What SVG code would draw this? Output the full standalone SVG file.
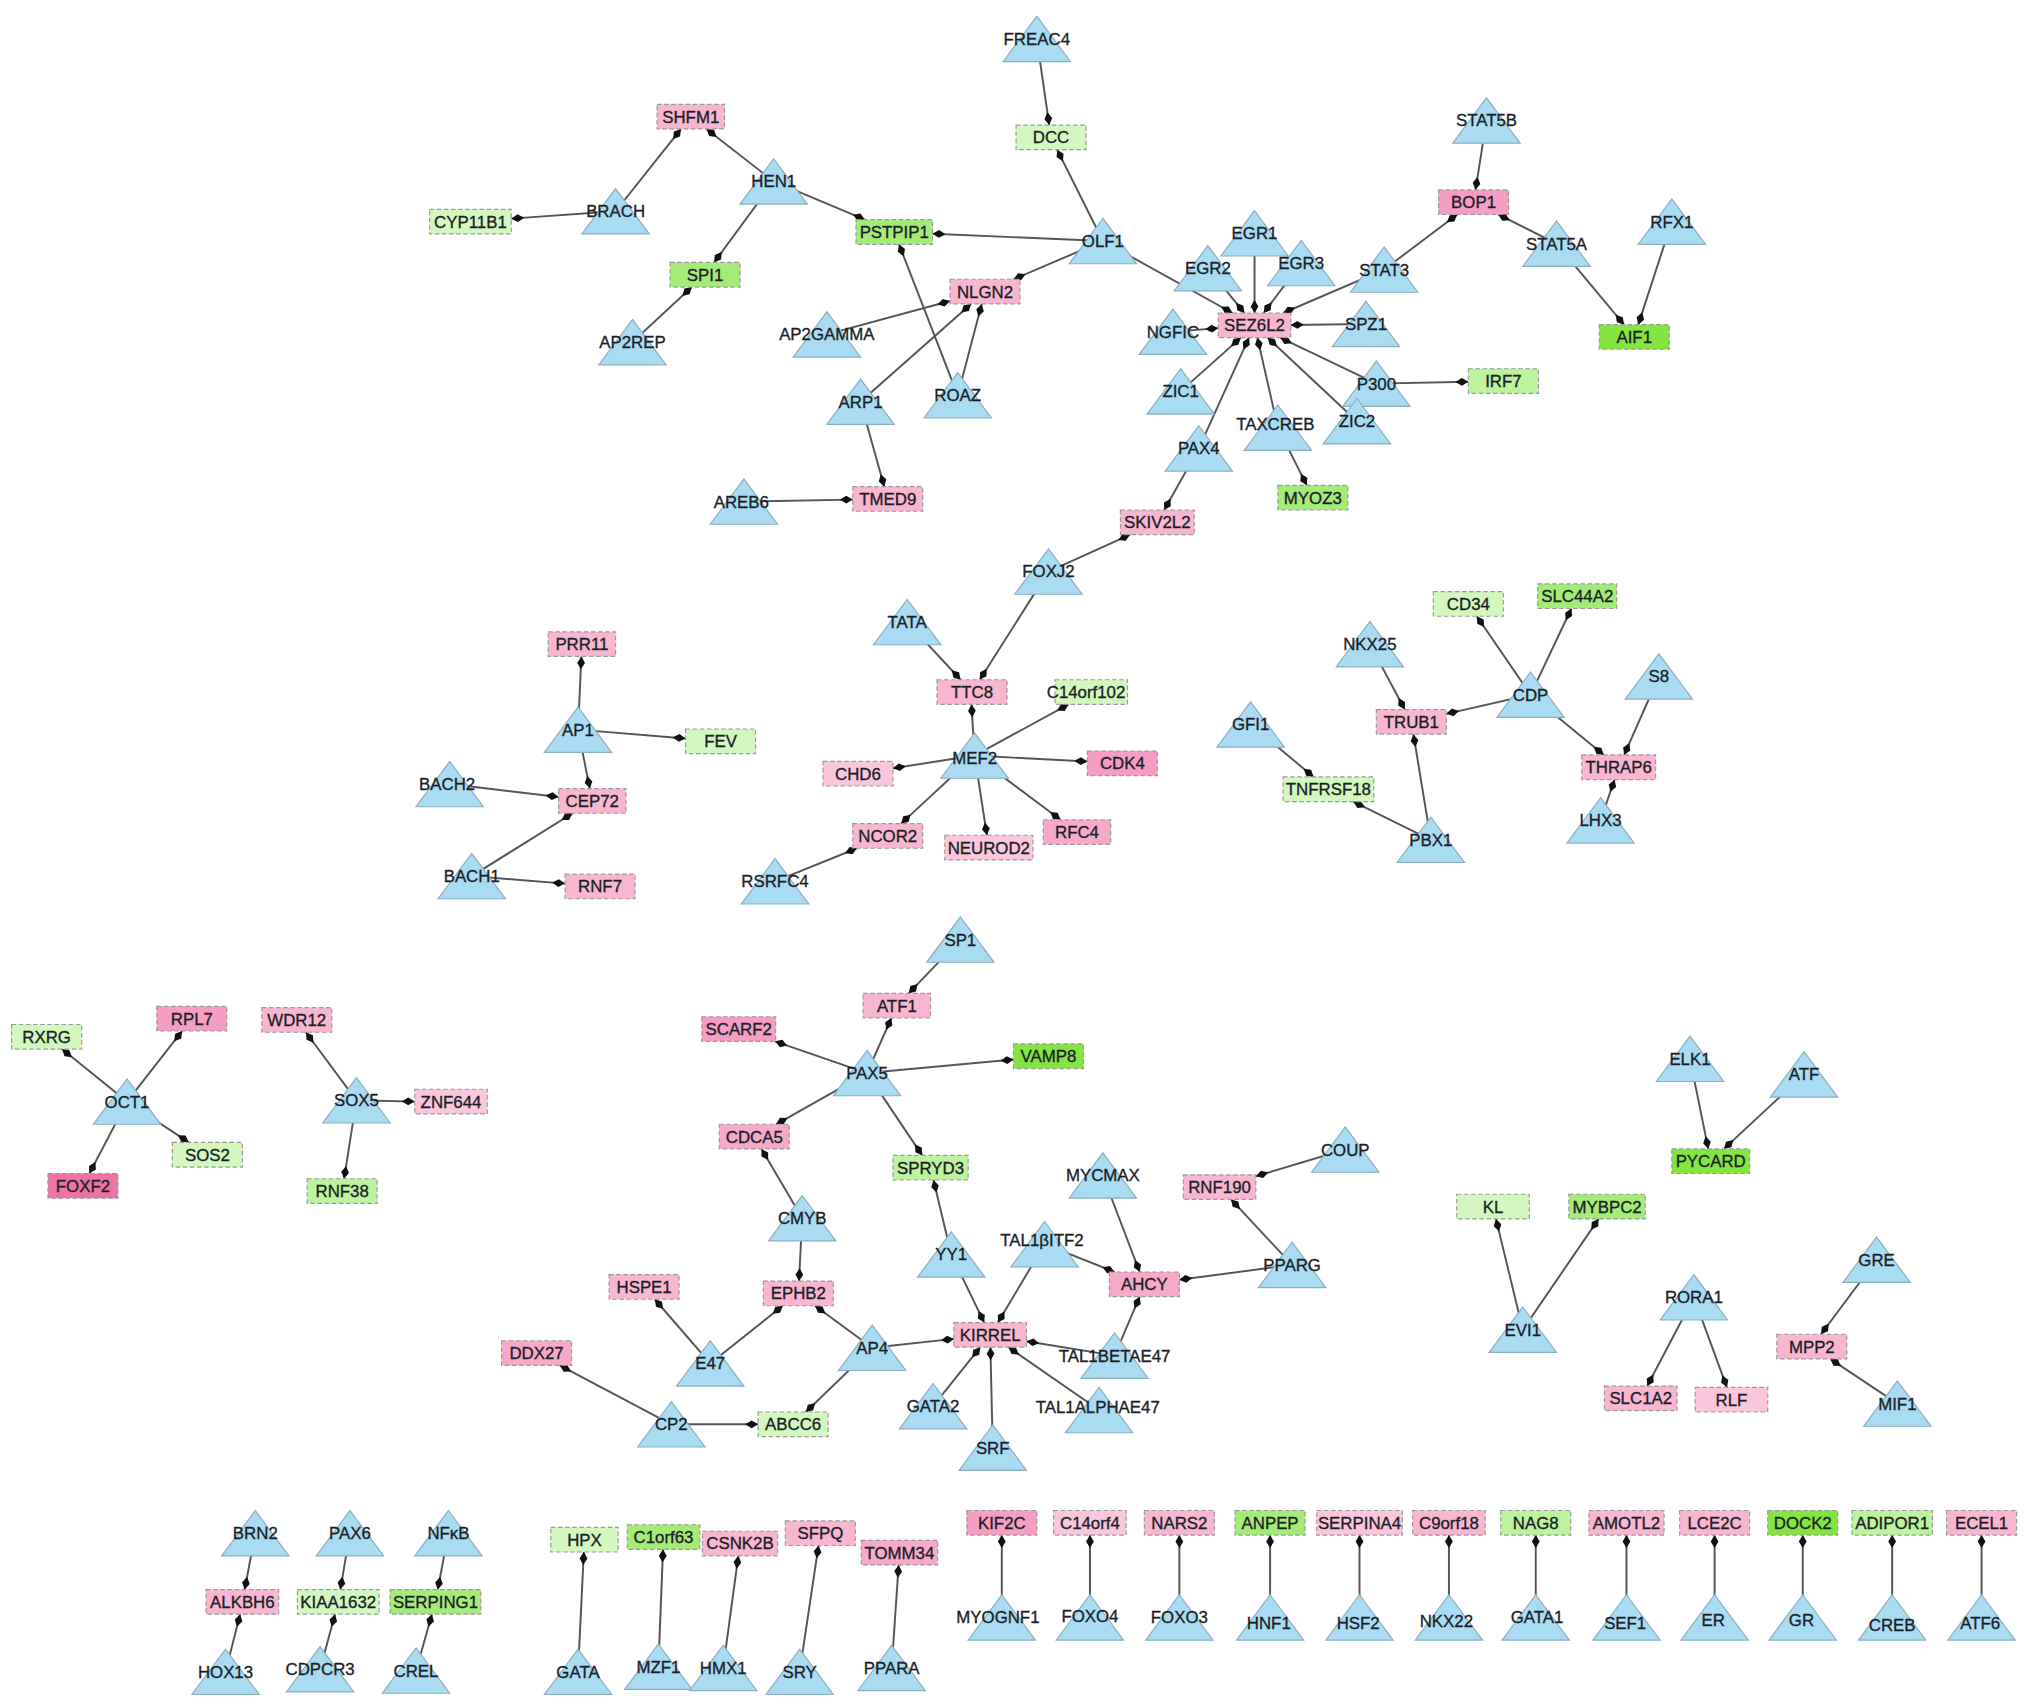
<svg xmlns="http://www.w3.org/2000/svg" xmlns:xlink="http://www.w3.org/1999/xlink" width="2032" height="1706" viewBox="0 0 2032 1706">
<defs>
<style>
.tf{fill:#a9dbf2;stroke:#8eaebd;stroke-width:0.9}
rect.n{stroke:#9a9a9a;stroke-width:0.9;stroke-dasharray:3.5 2}
text{font-family:"Liberation Sans",Arial,sans-serif;font-size:13px;fill:#1a1e28;stroke:#1a1e28;stroke-width:0.25;text-anchor:middle}
#edges line{stroke:#555;stroke-width:1.5;marker-end:url(#dia)}
.p{fill:#f8b6d0}.p1{fill:#fac6dc}.p2{fill:#f7a9c9}.p3{fill:#f59dc3}.p4{fill:#ee73a5}
.g1{fill:#d3f7bf}.g2{fill:#bdf29e}.g3{fill:#a5ec77}.g4{fill:#84e540}
</style>
<marker id="dia" viewBox="-11 -4 12 8" refX="0" refY="0" markerWidth="12" markerHeight="8" markerUnits="userSpaceOnUse" orient="auto"><path d="M0,0 L-5,-3 L-10,0 L-5,3 Z" fill="#111"/></marker>
<path id="tri" d="M0,-17.5 L26,17.5 L-26,17.5 Z"/>
</defs>
<rect width="2032" height="1706" fill="#fff"/>
<g transform="scale(1.296)">
<g id="edges">
<line x1="800" y1="30" x2="809.6" y2="96.5"/>
<line x1="851" y1="186" x2="815.7" y2="115.5"/>
<line x1="597" y1="140" x2="545.1" y2="99.5"/>
<line x1="475" y1="163" x2="525.5" y2="99.5"/>
<line x1="475" y1="163" x2="394.5" y2="168.7"/>
<line x1="597" y1="140" x2="667.4" y2="169.5"/>
<line x1="597" y1="140" x2="551" y2="202.5"/>
<line x1="488" y1="264" x2="533.8" y2="221.5"/>
<line x1="851" y1="186" x2="719.5" y2="180.3"/>
<line x1="851" y1="186" x2="782.1" y2="215.5"/>
<line x1="638" y1="258" x2="733" y2="232.3"/>
<line x1="664" y1="310" x2="749.3" y2="234.5"/>
<line x1="739" y1="305" x2="757.5" y2="234.5"/>
<line x1="739" y1="305" x2="693.7" y2="188.5"/>
<line x1="664" y1="310" x2="682.3" y2="375.5"/>
<line x1="574" y1="387" x2="658" y2="385.5"/>
<line x1="851" y1="186" x2="951" y2="241.5"/>
<line x1="932" y1="207" x2="960.2" y2="241.5"/>
<line x1="968" y1="180" x2="968" y2="241.5"/>
<line x1="1004" y1="203" x2="975.1" y2="241.5"/>
<line x1="1068" y1="208" x2="990.1" y2="241.5"/>
<line x1="1054" y1="250" x2="996" y2="250.7"/>
<line x1="905" y1="256" x2="940" y2="253.2"/>
<line x1="911" y1="302" x2="957.4" y2="260.5"/>
<line x1="925" y1="346" x2="963.7" y2="260.5"/>
<line x1="986" y1="330" x2="970.2" y2="260.5"/>
<line x1="1047" y1="325" x2="978.1" y2="260.5"/>
<line x1="1062" y1="296" x2="987.8" y2="260.5"/>
<line x1="1062" y1="296" x2="1133" y2="294.5"/>
<line x1="986" y1="330" x2="1008.3" y2="374.5"/>
<line x1="925" y1="346" x2="898.3" y2="393.5"/>
<line x1="809" y1="441" x2="872" y2="412.5"/>
<line x1="809" y1="441" x2="756" y2="524.5"/>
<line x1="1068" y1="208" x2="1124.4" y2="165.5"/>
<line x1="1147" y1="93" x2="1138.5" y2="146.5"/>
<line x1="1201" y1="188" x2="1156" y2="165.5"/>
<line x1="1201" y1="188" x2="1253.1" y2="250.5"/>
<line x1="1290" y1="171" x2="1264.1" y2="250.5"/>
<line x1="446" y1="563" x2="448.6" y2="506.5"/>
<line x1="446" y1="563" x2="529" y2="569.8"/>
<line x1="446" y1="563" x2="455.1" y2="608.5"/>
<line x1="347" y1="605" x2="431" y2="614.9"/>
<line x1="364" y1="676" x2="441.8" y2="627.5"/>
<line x1="364" y1="676" x2="436" y2="681.8"/>
<line x1="700" y1="480" x2="741.2" y2="524.5"/>
<line x1="752" y1="583" x2="749.6" y2="543.5"/>
<line x1="752" y1="583" x2="824.5" y2="543.5"/>
<line x1="752" y1="583" x2="839" y2="587.6"/>
<line x1="752" y1="583" x2="689" y2="592.8"/>
<line x1="752" y1="583" x2="695.3" y2="635.5"/>
<line x1="752" y1="583" x2="761.5" y2="644.5"/>
<line x1="752" y1="583" x2="818.3" y2="632.5"/>
<line x1="598" y1="680" x2="661.3" y2="654.5"/>
<line x1="1057" y1="497" x2="1083.9" y2="547.5"/>
<line x1="1181" y1="536" x2="1116" y2="550.8"/>
<line x1="1181" y1="536" x2="1139.5" y2="475.5"/>
<line x1="1181" y1="536" x2="1212.5" y2="469.5"/>
<line x1="1181" y1="536" x2="1237.5" y2="582.5"/>
<line x1="1280" y1="522" x2="1253.2" y2="582.5"/>
<line x1="1235" y1="633" x2="1245.8" y2="601.5"/>
<line x1="1104" y1="648" x2="1090.6" y2="566.5"/>
<line x1="1104" y1="648" x2="1044.2" y2="618.5"/>
<line x1="965" y1="559" x2="1013.6" y2="599.5"/>
<line x1="98" y1="850" x2="47.8" y2="809.5"/>
<line x1="98" y1="850" x2="140.6" y2="795.5"/>
<line x1="98" y1="850" x2="69" y2="905.5"/>
<line x1="98" y1="850" x2="145.7" y2="881.5"/>
<line x1="275" y1="849" x2="236" y2="796.5"/>
<line x1="275" y1="849" x2="320" y2="850"/>
<line x1="275" y1="849" x2="265.5" y2="909.5"/>
<line x1="741" y1="725" x2="701.1" y2="766.5"/>
<line x1="669" y1="828" x2="687.8" y2="785.5"/>
<line x1="669" y1="828" x2="598" y2="803.5"/>
<line x1="669" y1="828" x2="782" y2="817.5"/>
<line x1="669" y1="828" x2="598.8" y2="867.5"/>
<line x1="669" y1="828" x2="711.6" y2="891.5"/>
<line x1="619" y1="940" x2="587.6" y2="886.5"/>
<line x1="619" y1="940" x2="616.5" y2="988.5"/>
<line x1="734" y1="968" x2="720.3" y2="910.5"/>
<line x1="734" y1="968" x2="759.4" y2="1020.5"/>
<line x1="806" y1="960" x2="770" y2="1020.5"/>
<line x1="806" y1="960" x2="860" y2="981.5"/>
<line x1="851" y1="907" x2="879.4" y2="981.5"/>
<line x1="997" y1="976" x2="910" y2="987.5"/>
<line x1="997" y1="976" x2="949.9" y2="925.5"/>
<line x1="1038" y1="887" x2="969" y2="907.6"/>
<line x1="860" y1="1046" x2="879.4" y2="1000.5"/>
<line x1="860" y1="1046" x2="792" y2="1034.9"/>
<line x1="548" y1="1052" x2="505.2" y2="1002.5"/>
<line x1="548" y1="1052" x2="604" y2="1007.5"/>
<line x1="673" y1="1040" x2="628.9" y2="1007.5"/>
<line x1="673" y1="1040" x2="736" y2="1033.1"/>
<line x1="673" y1="1040" x2="621.8" y2="1089.5"/>
<line x1="518" y1="1099" x2="431.9" y2="1053.5"/>
<line x1="518" y1="1099" x2="585" y2="1099"/>
<line x1="720" y1="1085" x2="756.4" y2="1039.5"/>
<line x1="766" y1="1117" x2="764.2" y2="1039.5"/>
<line x1="848" y1="1088" x2="778.1" y2="1039.5"/>
<line x1="1304" y1="817" x2="1318.1" y2="886.5"/>
<line x1="1392" y1="829" x2="1330.2" y2="886.5"/>
<line x1="1175" y1="1026" x2="1154.3" y2="940.5"/>
<line x1="1175" y1="1026" x2="1233.5" y2="940.5"/>
<line x1="1307" y1="1001" x2="1271" y2="1069.5"/>
<line x1="1307" y1="1001" x2="1332.5" y2="1070.5"/>
<line x1="1448" y1="972" x2="1405.1" y2="1029.5"/>
<line x1="1464" y1="1083" x2="1412.2" y2="1048.5"/>
<line x1="197" y1="1183" x2="188.8" y2="1226.5"/>
<line x1="174" y1="1290" x2="185.3" y2="1245.5"/>
<line x1="270" y1="1183" x2="262.6" y2="1226.5"/>
<line x1="247" y1="1288" x2="258.5" y2="1245.5"/>
<line x1="346" y1="1183" x2="337.8" y2="1226.5"/>
<line x1="321" y1="1289" x2="333.3" y2="1245.5"/>
<line x1="446" y1="1290" x2="450.5" y2="1197.5"/>
<line x1="508" y1="1286" x2="511.6" y2="1195.5"/>
<line x1="558" y1="1287" x2="569.7" y2="1200.5"/>
<line x1="617" y1="1290" x2="631.6" y2="1192.5"/>
<line x1="688" y1="1287" x2="693.4" y2="1207.5"/>
<line x1="773" y1="1248" x2="773" y2="1184.5"/>
<line x1="841" y1="1248" x2="841" y2="1184.5"/>
<line x1="910" y1="1248" x2="910" y2="1184.5"/>
<line x1="980" y1="1248" x2="980" y2="1184.5"/>
<line x1="1049" y1="1248" x2="1049" y2="1184.5"/>
<line x1="1118" y1="1248" x2="1118" y2="1184.5"/>
<line x1="1185" y1="1248" x2="1185" y2="1184.5"/>
<line x1="1255" y1="1248" x2="1255" y2="1184.5"/>
<line x1="1323" y1="1248" x2="1323" y2="1184.5"/>
<line x1="1391" y1="1248" x2="1391" y2="1184.5"/>
<line x1="1460" y1="1248" x2="1460" y2="1184.5"/>
<line x1="1529" y1="1248" x2="1529" y2="1184.5"/>
</g>
<g id="nodes">
<g id="n_FREAC4"><use href="#tri" x="800" y="30" class="tf"/><text x="800" y="34.6">FREAC4</text></g>
<g id="n_HEN1"><use href="#tri" x="597" y="140" class="tf"/><text x="597" y="144.6">HEN1</text></g>
<g id="n_BRACH"><use href="#tri" x="475" y="163" class="tf"/><text x="475" y="167.6">BRACH</text></g>
<g id="n_OLF1"><use href="#tri" x="851" y="186" class="tf"/><text x="851" y="190.6">OLF1</text></g>
<g id="n_AP2REP"><use href="#tri" x="488" y="264" class="tf"/><text x="488" y="268.6">AP2REP</text></g>
<g id="n_AP2GAMMA"><use href="#tri" x="638" y="258" class="tf"/><text x="638" y="262.6">AP2GAMMA</text></g>
<g id="n_ARP1"><use href="#tri" x="664" y="310" class="tf"/><text x="664" y="314.6">ARP1</text></g>
<g id="n_ROAZ"><use href="#tri" x="739" y="305" class="tf"/><text x="739" y="309.6">ROAZ</text></g>
<g id="n_AREB6"><use href="#tri" x="574" y="387" class="tf"/><text x="572" y="391.6">AREB6</text></g>
<g id="n_EGR1"><use href="#tri" x="968" y="180" class="tf"/><text x="968" y="184.6">EGR1</text></g>
<g id="n_EGR2"><use href="#tri" x="932" y="207" class="tf"/><text x="932" y="211.6">EGR2</text></g>
<g id="n_EGR3"><use href="#tri" x="1004" y="203" class="tf"/><text x="1004" y="207.6">EGR3</text></g>
<g id="n_STAT3"><use href="#tri" x="1068" y="208" class="tf"/><text x="1068" y="212.6">STAT3</text></g>
<g id="n_NGFIC"><use href="#tri" x="905" y="256" class="tf"/><text x="905" y="260.6">NGFIC</text></g>
<g id="n_SPZ1"><use href="#tri" x="1054" y="250" class="tf"/><text x="1054" y="254.6">SPZ1</text></g>
<g id="n_ZIC1"><use href="#tri" x="911" y="302" class="tf"/><text x="911" y="306.6">ZIC1</text></g>
<g id="n_P300"><use href="#tri" x="1062" y="296" class="tf"/><text x="1062" y="300.6">P300</text></g>
<g id="n_TAXCREB"><use href="#tri" x="986" y="330" class="tf"/><text x="984" y="331.6">TAXCREB</text></g>
<g id="n_ZIC2"><use href="#tri" x="1047" y="325" class="tf"/><text x="1047" y="329.6">ZIC2</text></g>
<g id="n_PAX4"><use href="#tri" x="925" y="346" class="tf"/><text x="925" y="350.6">PAX4</text></g>
<g id="n_FOXJ2"><use href="#tri" x="809" y="441" class="tf"/><text x="809" y="445.6">FOXJ2</text></g>
<g id="n_STAT5B"><use href="#tri" x="1147" y="93" class="tf"/><text x="1147" y="97.6">STAT5B</text></g>
<g id="n_STAT5A"><use href="#tri" x="1201" y="188" class="tf"/><text x="1201" y="192.6">STAT5A</text></g>
<g id="n_RFX1"><use href="#tri" x="1290" y="171" class="tf"/><text x="1290" y="175.6">RFX1</text></g>
<g id="n_AP1"><use href="#tri" x="446" y="563" class="tf"/><text x="446" y="567.6">AP1</text></g>
<g id="n_BACH2"><use href="#tri" x="347" y="605" class="tf"/><text x="345" y="609.6">BACH2</text></g>
<g id="n_BACH1"><use href="#tri" x="364" y="676" class="tf"/><text x="364" y="680.6">BACH1</text></g>
<g id="n_TATA"><use href="#tri" x="700" y="480" class="tf"/><text x="700" y="484.6">TATA</text></g>
<g id="n_MEF2"><use href="#tri" x="752" y="583" class="tf"/><text x="752" y="589.6">MEF2</text></g>
<g id="n_RSRFC4"><use href="#tri" x="598" y="680" class="tf"/><text x="598" y="684.6">RSRFC4</text></g>
<g id="n_NKX25"><use href="#tri" x="1057" y="497" class="tf"/><text x="1057" y="501.6">NKX25</text></g>
<g id="n_S8"><use href="#tri" x="1280" y="522" class="tf"/><text x="1280" y="526.6">S8</text></g>
<g id="n_CDP"><use href="#tri" x="1181" y="536" class="tf"/><text x="1181" y="540.6">CDP</text></g>
<g id="n_GFI1"><use href="#tri" x="965" y="559" class="tf"/><text x="965" y="563.6">GFI1</text></g>
<g id="n_LHX3"><use href="#tri" x="1235" y="633" class="tf"/><text x="1235" y="637.6">LHX3</text></g>
<g id="n_PBX1"><use href="#tri" x="1104" y="648" class="tf"/><text x="1104" y="652.6">PBX1</text></g>
<g id="n_OCT1"><use href="#tri" x="98" y="850" class="tf"/><text x="98" y="854.6">OCT1</text></g>
<g id="n_SOX5"><use href="#tri" x="275" y="849" class="tf"/><text x="275" y="853.6">SOX5</text></g>
<g id="n_SP1"><use href="#tri" x="741" y="725" class="tf"/><text x="741" y="729.6">SP1</text></g>
<g id="n_PAX5"><use href="#tri" x="669" y="828" class="tf"/><text x="669" y="832.6">PAX5</text></g>
<g id="n_CMYB"><use href="#tri" x="619" y="940" class="tf"/><text x="619" y="944.6">CMYB</text></g>
<g id="n_MYCMAX"><use href="#tri" x="851" y="907" class="tf"/><text x="851" y="911.6">MYCMAX</text></g>
<g id="n_COUP"><use href="#tri" x="1038" y="887" class="tf"/><text x="1038" y="891.6">COUP</text></g>
<g id="n_TAL1bITF2"><use href="#tri" x="806" y="960" class="tf"/><text x="804" y="961.6">TAL1βITF2</text></g>
<g id="n_YY1"><use href="#tri" x="734" y="968" class="tf"/><text x="734" y="972.6">YY1</text></g>
<g id="n_PPARG"><use href="#tri" x="997" y="976" class="tf"/><text x="997" y="980.6">PPARG</text></g>
<g id="n_TAL1BETAE47"><use href="#tri" x="860" y="1046" class="tf"/><text x="860" y="1050.6">TAL1BETAE47</text></g>
<g id="n_E47"><use href="#tri" x="548" y="1052" class="tf"/><text x="548" y="1056.6">E47</text></g>
<g id="n_AP4"><use href="#tri" x="673" y="1040" class="tf"/><text x="673" y="1044.6">AP4</text></g>
<g id="n_GATA2"><use href="#tri" x="720" y="1085" class="tf"/><text x="720" y="1089.6">GATA2</text></g>
<g id="n_TAL1ALPHAE47"><use href="#tri" x="848" y="1088" class="tf"/><text x="847" y="1090.6">TAL1ALPHAE47</text></g>
<g id="n_CP2"><use href="#tri" x="518" y="1099" class="tf"/><text x="518" y="1103.6">CP2</text></g>
<g id="n_SRF"><use href="#tri" x="766" y="1117" class="tf"/><text x="766" y="1121.6">SRF</text></g>
<g id="n_ELK1"><use href="#tri" x="1304" y="817" class="tf"/><text x="1304" y="821.6">ELK1</text></g>
<g id="n_ATF"><use href="#tri" x="1392" y="829" class="tf"/><text x="1392" y="833.6">ATF</text></g>
<g id="n_EVI1"><use href="#tri" x="1175" y="1026" class="tf"/><text x="1175" y="1030.6">EVI1</text></g>
<g id="n_GRE"><use href="#tri" x="1448" y="972" class="tf"/><text x="1448" y="976.6">GRE</text></g>
<g id="n_RORA1"><use href="#tri" x="1307" y="1001" class="tf"/><text x="1307" y="1005.6">RORA1</text></g>
<g id="n_MIF1"><use href="#tri" x="1464" y="1083" class="tf"/><text x="1464" y="1087.6">MIF1</text></g>
<g id="n_BRN2"><use href="#tri" x="197" y="1183" class="tf"/><text x="197" y="1187.6">BRN2</text></g>
<g id="n_HOX13"><use href="#tri" x="174" y="1290" class="tf"/><text x="174" y="1294.6">HOX13</text></g>
<g id="n_PAX6"><use href="#tri" x="270" y="1183" class="tf"/><text x="270" y="1187.6">PAX6</text></g>
<g id="n_CDPCR3"><use href="#tri" x="247" y="1288" class="tf"/><text x="247" y="1292.6">CDPCR3</text></g>
<g id="n_NFkB"><use href="#tri" x="346" y="1183" class="tf"/><text x="346" y="1187.6">NFκB</text></g>
<g id="n_CREL"><use href="#tri" x="321" y="1289" class="tf"/><text x="321" y="1293.6">CREL</text></g>
<g id="n_GATA"><use href="#tri" x="446" y="1290" class="tf"/><text x="446" y="1294.6">GATA</text></g>
<g id="n_MZF1"><use href="#tri" x="508" y="1286" class="tf"/><text x="508" y="1290.6">MZF1</text></g>
<g id="n_HMX1"><use href="#tri" x="558" y="1287" class="tf"/><text x="558" y="1291.6">HMX1</text></g>
<g id="n_SRY"><use href="#tri" x="617" y="1290" class="tf"/><text x="617" y="1294.6">SRY</text></g>
<g id="n_PPARA"><use href="#tri" x="688" y="1287" class="tf"/><text x="688" y="1291.6">PPARA</text></g>
<g id="n_MYOGNF1"><use href="#tri" x="773" y="1248" class="tf"/><text x="770" y="1252.6">MYOGNF1</text></g>
<g id="n_FOXO4"><use href="#tri" x="841" y="1248" class="tf"/><text x="841" y="1251.6">FOXO4</text></g>
<g id="n_FOXO3"><use href="#tri" x="910" y="1248" class="tf"/><text x="910" y="1252.6">FOXO3</text></g>
<g id="n_HNF1"><use href="#tri" x="980" y="1248" class="tf"/><text x="979" y="1256.6">HNF1</text></g>
<g id="n_HSF2"><use href="#tri" x="1049" y="1248" class="tf"/><text x="1048" y="1256.6">HSF2</text></g>
<g id="n_NKX22"><use href="#tri" x="1118" y="1248" class="tf"/><text x="1116" y="1255.6">NKX22</text></g>
<g id="n_GATA1"><use href="#tri" x="1185" y="1248" class="tf"/><text x="1186" y="1252.6">GATA1</text></g>
<g id="n_SEF1"><use href="#tri" x="1255" y="1248" class="tf"/><text x="1254" y="1256.6">SEF1</text></g>
<g id="n_ER"><use href="#tri" x="1323" y="1248" class="tf"/><text x="1322" y="1254.6">ER</text></g>
<g id="n_GR"><use href="#tri" x="1391" y="1248" class="tf"/><text x="1390" y="1254.6">GR</text></g>
<g id="n_CREB"><use href="#tri" x="1460" y="1248" class="tf"/><text x="1460" y="1258.6">CREB</text></g>
<g id="n_ATF6"><use href="#tri" x="1529" y="1248" class="tf"/><text x="1528" y="1256.6">ATF6</text></g>

<g id="n_SHFM1"><rect class="n p" x="507" y="80.5" width="52" height="19"/><text x="533" y="94.6">SHFM1</text></g>
<g id="n_CYP11B1"><rect class="n g1" x="331.5" y="161.5" width="63" height="19"/><text x="363" y="175.6">CYP11B1</text></g>
<g id="n_PSTPIP1"><rect class="n g3" x="660.5" y="169.5" width="59" height="19"/><text x="690" y="183.6">PSTPIP1</text></g>
<g id="n_SPI1"><rect class="n g3" x="517" y="202.5" width="54" height="19"/><text x="544" y="216.6">SPI1</text></g>
<g id="n_NLGN2"><rect class="n p" x="733" y="215.5" width="54" height="19"/><text x="760" y="229.6">NLGN2</text></g>
<g id="n_TMED9"><rect class="n p" x="658" y="375.5" width="54" height="19"/><text x="685" y="389.6">TMED9</text></g>
<g id="n_DCC"><rect class="n g1" x="784" y="96.5" width="54" height="19"/><text x="811" y="110.6">DCC</text></g>
<g id="n_SEZ6L2"><rect class="n p" x="940" y="241.5" width="56" height="19"/><text x="968" y="255.6">SEZ6L2</text></g>
<g id="n_BOP1"><rect class="n p3" x="1110" y="146.5" width="54" height="19"/><text x="1137" y="160.6">BOP1</text></g>
<g id="n_IRF7"><rect class="n g2" x="1133" y="284.5" width="54" height="19"/><text x="1160" y="298.6">IRF7</text></g>
<g id="n_AIF1"><rect class="n g4" x="1234" y="250.5" width="54" height="19"/><text x="1261" y="264.6">AIF1</text></g>
<g id="n_MYOZ3"><rect class="n g3" x="986" y="374.5" width="54" height="19"/><text x="1013" y="388.6">MYOZ3</text></g>
<g id="n_SKIV2L2"><rect class="n p" x="864.5" y="393.5" width="57" height="19"/><text x="893" y="407.6">SKIV2L2</text></g>
<g id="n_PRR11"><rect class="n p" x="423" y="487.5" width="52" height="19"/><text x="449" y="501.6">PRR11</text></g>
<g id="n_FEV"><rect class="n g1" x="529" y="562.5" width="54" height="19"/><text x="556" y="576.6">FEV</text></g>
<g id="n_CEP72"><rect class="n p" x="431" y="608.5" width="52" height="19"/><text x="457" y="622.6">CEP72</text></g>
<g id="n_RNF7"><rect class="n p" x="436" y="674.5" width="54" height="19"/><text x="463" y="688.6">RNF7</text></g>
<g id="n_TTC8"><rect class="n p" x="723" y="524.5" width="54" height="19"/><text x="750" y="538.6">TTC8</text></g>
<g id="n_C14orf102"><rect class="n g1" x="814" y="524.5" width="56" height="19"/><text x="838" y="538.6">C14orf102</text></g>
<g id="n_CHD6"><rect class="n p1" x="635" y="587.5" width="54" height="19"/><text x="662" y="601.6">CHD6</text></g>
<g id="n_CDK4"><rect class="n p3" x="839" y="579.5" width="54" height="19"/><text x="866" y="593.6">CDK4</text></g>
<g id="n_NCOR2"><rect class="n p" x="658" y="635.5" width="54" height="19"/><text x="685" y="649.6">NCOR2</text></g>
<g id="n_NEUROD2"><rect class="n p1" x="729" y="644.5" width="68" height="19"/><text x="763" y="658.6">NEUROD2</text></g>
<g id="n_RFC4"><rect class="n p2" x="805" y="632.5" width="52" height="19"/><text x="831" y="646.6">RFC4</text></g>
<g id="n_CD34"><rect class="n g1" x="1106" y="456.5" width="54" height="19"/><text x="1133" y="470.6">CD34</text></g>
<g id="n_SLC44A2"><rect class="n g3" x="1186.5" y="450.5" width="61" height="19"/><text x="1217" y="464.6">SLC44A2</text></g>
<g id="n_TRUB1"><rect class="n p" x="1062" y="547.5" width="54" height="19"/><text x="1089" y="561.6">TRUB1</text></g>
<g id="n_THRAP6"><rect class="n p" x="1220.5" y="582.5" width="57" height="19"/><text x="1249" y="596.6">THRAP6</text></g>
<g id="n_TNFRSF18"><rect class="n g1" x="990" y="599.5" width="70" height="19"/><text x="1025" y="613.6">TNFRSF18</text></g>
<g id="n_RXRG"><rect class="n g1" x="9" y="790.5" width="54" height="19"/><text x="36" y="804.6">RXRG</text></g>
<g id="n_RPL7"><rect class="n p3" x="121" y="776.5" width="54" height="19"/><text x="148" y="790.6">RPL7</text></g>
<g id="n_FOXF2"><rect class="n p4" x="37" y="905.5" width="54" height="19"/><text x="64" y="919.6">FOXF2</text></g>
<g id="n_SOS2"><rect class="n g1" x="133" y="881.5" width="54" height="19"/><text x="160" y="895.6">SOS2</text></g>
<g id="n_WDR12"><rect class="n p" x="202" y="777.5" width="54" height="19"/><text x="229" y="791.6">WDR12</text></g>
<g id="n_ZNF644"><rect class="n p1" x="320" y="840.5" width="56" height="19"/><text x="348" y="854.6">ZNF644</text></g>
<g id="n_RNF38"><rect class="n g2" x="237" y="909.5" width="54" height="19"/><text x="264" y="923.6">RNF38</text></g>
<g id="n_ATF1"><rect class="n p" x="666" y="766.5" width="52" height="19"/><text x="692" y="780.6">ATF1</text></g>
<g id="n_SCARF2"><rect class="n p3" x="541.5" y="784.5" width="57" height="19"/><text x="570" y="798.6">SCARF2</text></g>
<g id="n_VAMP8"><rect class="n g4" x="782" y="805.5" width="54" height="19"/><text x="809" y="819.6">VAMP8</text></g>
<g id="n_CDCA5"><rect class="n p2" x="555" y="867.5" width="54" height="19"/><text x="582" y="881.6">CDCA5</text></g>
<g id="n_SPRYD3"><rect class="n g2" x="689" y="891.5" width="58" height="19"/><text x="718" y="905.6">SPRYD3</text></g>
<g id="n_RNF190"><rect class="n p" x="913" y="906.5" width="56" height="19"/><text x="941" y="920.6">RNF190</text></g>
<g id="n_AHCY"><rect class="n p2" x="856" y="981.5" width="54" height="19"/><text x="883" y="995.6">AHCY</text></g>
<g id="n_HSPE1"><rect class="n p" x="470" y="983.5" width="54" height="19"/><text x="497" y="997.6">HSPE1</text></g>
<g id="n_EPHB2"><rect class="n p" x="589" y="988.5" width="54" height="19"/><text x="616" y="1002.6">EPHB2</text></g>
<g id="n_KIRREL"><rect class="n p" x="736" y="1020.5" width="56" height="19"/><text x="764" y="1034.6">KIRREL</text></g>
<g id="n_DDX27"><rect class="n p2" x="387" y="1034.5" width="54" height="19"/><text x="414" y="1048.6">DDX27</text></g>
<g id="n_ABCC6"><rect class="n g1" x="585" y="1089.5" width="54" height="19"/><text x="612" y="1103.6">ABCC6</text></g>
<g id="n_PYCARD"><rect class="n g4" x="1290" y="886.5" width="60" height="19"/><text x="1320" y="900.6">PYCARD</text></g>
<g id="n_KL"><rect class="n g1" x="1124" y="921.5" width="56" height="19"/><text x="1152" y="935.6">KL</text></g>
<g id="n_MYBPC2"><rect class="n g3" x="1210.5" y="921.5" width="59" height="19"/><text x="1240" y="935.6">MYBPC2</text></g>
<g id="n_MPP2"><rect class="n p" x="1371" y="1029.5" width="54" height="19"/><text x="1398" y="1043.6">MPP2</text></g>
<g id="n_SLC1A2"><rect class="n p" x="1238" y="1069.5" width="56" height="19"/><text x="1266" y="1083.6">SLC1A2</text></g>
<g id="n_RLF"><rect class="n p1" x="1308" y="1070.5" width="56" height="19"/><text x="1336" y="1084.6">RLF</text></g>
<g id="n_ALKBH6"><rect class="n p" x="159" y="1226.5" width="56" height="19"/><text x="187" y="1240.6">ALKBH6</text></g>
<g id="n_KIAA1632"><rect class="n g1" x="229.5" y="1226.5" width="63" height="19"/><text x="261" y="1240.6">KIAA1632</text></g>
<g id="n_SERPING1"><rect class="n g3" x="301" y="1226.5" width="70" height="19"/><text x="336" y="1240.6">SERPING1</text></g>
<g id="n_HPX"><rect class="n g1" x="425" y="1178.5" width="52" height="19"/><text x="451" y="1192.6">HPX</text></g>
<g id="n_C1orf63"><rect class="n g3" x="484" y="1176.5" width="56" height="19"/><text x="512" y="1190.6">C1orf63</text></g>
<g id="n_CSNK2B"><rect class="n p" x="542" y="1181.5" width="58" height="19"/><text x="571" y="1195.6">CSNK2B</text></g>
<g id="n_SFPQ"><rect class="n p" x="606" y="1173.5" width="54" height="19"/><text x="633" y="1187.6">SFPQ</text></g>
<g id="n_TOMM34"><rect class="n p2" x="664.5" y="1188.5" width="59" height="19"/><text x="694" y="1202.6">TOMM34</text></g>
<g id="n_KIF2C"><rect class="n p3" x="746" y="1165.5" width="54" height="19"/><text x="773" y="1179.6">KIF2C</text></g>
<g id="n_C14orf4"><rect class="n p1" x="813" y="1165.5" width="56" height="19"/><text x="841" y="1179.6">C14orf4</text></g>
<g id="n_NARS2"><rect class="n p" x="883" y="1165.5" width="54" height="19"/><text x="910" y="1179.6">NARS2</text></g>
<g id="n_ANPEP"><rect class="n g3" x="953" y="1165.5" width="54" height="19"/><text x="980" y="1179.6">ANPEP</text></g>
<g id="n_SERPINA4"><rect class="n p1" x="1016" y="1165.5" width="66" height="19"/><text x="1049" y="1179.6">SERPINA4</text></g>
<g id="n_C9orf18"><rect class="n p" x="1090" y="1165.5" width="56" height="19"/><text x="1118" y="1179.6">C9orf18</text></g>
<g id="n_NAG8"><rect class="n g2" x="1158" y="1165.5" width="54" height="19"/><text x="1185" y="1179.6">NAG8</text></g>
<g id="n_AMOTL2"><rect class="n p" x="1226" y="1165.5" width="58" height="19"/><text x="1255" y="1179.6">AMOTL2</text></g>
<g id="n_LCE2C"><rect class="n p" x="1296" y="1165.5" width="54" height="19"/><text x="1323" y="1179.6">LCE2C</text></g>
<g id="n_DOCK2"><rect class="n g4" x="1364" y="1165.5" width="54" height="19"/><text x="1391" y="1179.6">DOCK2</text></g>
<g id="n_ADIPOR1"><rect class="n g2" x="1429" y="1165.5" width="62" height="19"/><text x="1460" y="1179.6">ADIPOR1</text></g>
<g id="n_ECEL1"><rect class="n p" x="1502" y="1165.5" width="54" height="19"/><text x="1529" y="1179.6">ECEL1</text></g>
</g>
</g>
</svg>
